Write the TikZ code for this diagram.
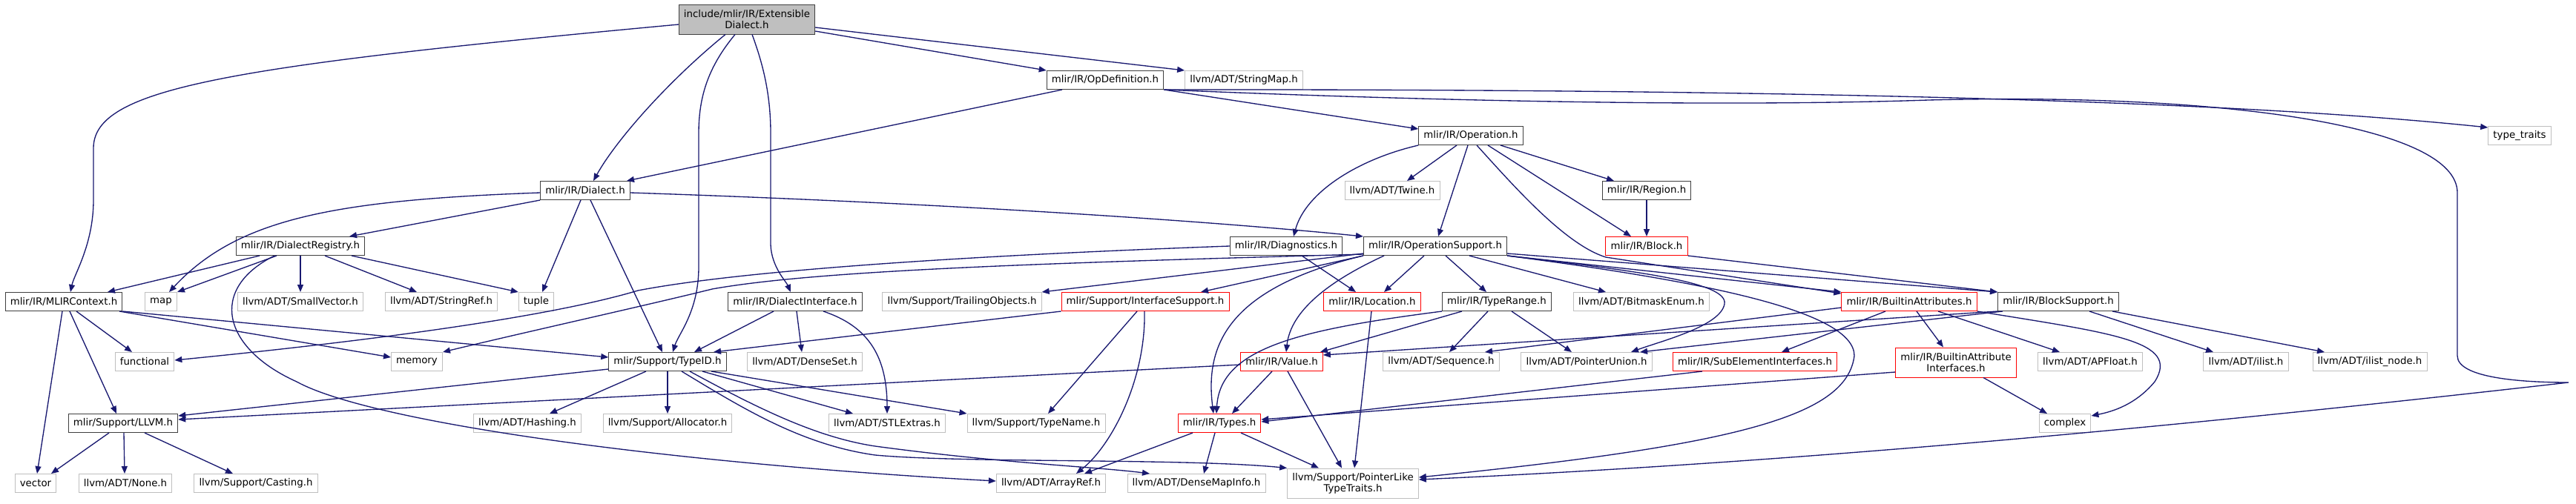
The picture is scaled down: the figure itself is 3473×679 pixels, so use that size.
\documentclass[tikz,border=0pt]{standalone}
\usepackage{fontspec}
\setmainfont{DejaVu Sans}
\usetikzlibrary{arrows.meta}
\definecolor{edgeblue}{RGB}{25,25,112}
\definecolor{rootgray}{RGB}{191,191,191}
\definecolor{boxdark}{RGB}{64,64,64}
\definecolor{sysgray}{RGB}{191,191,191}
\definecolor{truncred}{RGB}{255,0,0}
\begin{document}
\begin{tikzpicture}[x=0.75pt,y=-0.75pt,font=\fontsize{10}{11.5}\selectfont]
\tikzset{
  box/.style={draw,line width=0.75pt,align=center,minimum height=18.75pt,inner xsep=5pt,inner ysep=2pt,fill=white},
  root/.style={box,fill=rootgray,draw=boxdark,minimum height=30pt},
  hdr/.style={box,draw=boxdark},
  trunc/.style={box,draw=truncred},
  sys/.style={box,draw=sysgray},
  arr/.style={-{Triangle[length=7.5pt,width=6pt]},line width=1pt,draw=edgeblue}
}
\useasboundingbox (0,0) rectangle (3473,679);
\node(ext)[root] at (1007,26){include/mlir/IR/Extensible\\Dialect.h};
\node(opdef)[hdr] at (1490,108){mlir/IR/OpDefinition.h};
\node(strmap)[sys] at (1677,108){llvm/ADT/StringMap.h};
\node(oper)[hdr] at (1983,183){mlir/IR/Operation.h};
\node(typetr)[sys] at (3397,183){type\_traits};
\node(dialect)[hdr] at (789,257){mlir/IR/Dialect.h};
\node(twine)[sys] at (1877,257){llvm/ADT/Twine.h};
\node(region)[hdr] at (2220,257){mlir/IR/Region.h};
\node(dreg)[hdr] at (405,332){mlir/IR/DialectRegistry.h};
\node(diag)[hdr] at (1734,332){mlir/IR/Diagnostics.h};
\node(opsup)[hdr] at (1935,332){mlir/IR/OperationSupport.h};
\node(block)[trunc] at (2220,332){mlir/IR/Block.h};
\node(mlirctx)[hdr] at (86,407){mlir/IR/MLIRContext.h};
\node(map)[sys] at (217,407){map};
\node(smallvec)[sys] at (405,407){llvm/ADT/SmallVector.h};
\node(strref)[sys] at (595,407){llvm/ADT/StringRef.h};
\node(tuple)[sys] at (723,407){tuple};
\node(dialiface)[hdr] at (1072,407){mlir/IR/DialectInterface.h};
\node(trailobj)[sys] at (1297,407){llvm/Support/TrailingObjects.h};
\node(ifacesup)[trunc] at (1544,407){mlir/Support/InterfaceSupport.h};
\node(location)[trunc] at (1850,407){mlir/IR/Location.h};
\node(typerange)[hdr] at (2018,407){mlir/IR/TypeRange.h};
\node(bitmask)[sys] at (2213,407){llvm/ADT/BitmaskEnum.h};
\node(battr)[trunc] at (2574,407){mlir/IR/BuiltinAttributes.h};
\node(blocksup)[hdr] at (2775,407){mlir/IR/BlockSupport.h};
\node(functional)[sys] at (195,488){functional};
\node(memory)[sys] at (562,488){memory};
\node(typeid)[hdr] at (900,488){mlir/Support/TypeID.h};
\node(denseset)[sys] at (1085,488){llvm/ADT/DenseSet.h};
\node(value)[trunc] at (1728,488){mlir/IR/Value.h};
\node(sequence)[sys] at (1943,488){llvm/ADT/Sequence.h};
\node(ptrunion)[sys] at (2139,488){llvm/ADT/PointerUnion.h};
\node(subelem)[trunc] at (2366,488){mlir/IR/SubElementInterfaces.h};
\node(baiface)[trunc,minimum height=30pt] at (2637,489){mlir/IR/BuiltinAttribute\\Interfaces.h};
\node(apfloat)[sys] at (2818,488){llvm/ADT/APFloat.h};
\node(ilist)[sys] at (3028,488){llvm/ADT/ilist.h};
\node(ilistnode)[sys] at (3195,488){llvm/ADT/ilist\_node.h};
\node(llvmh)[hdr] at (166,571){mlir/Support/LLVM.h};
\node(hashing)[sys] at (711,571){llvm/ADT/Hashing.h};
\node(allocator)[sys] at (900,571){llvm/Support/Allocator.h};
\node(stlextras)[sys] at (1196,571){llvm/ADT/STLExtras.h};
\node(typename)[sys] at (1397,571){llvm/Support/TypeName.h};
\node(types)[trunc] at (1644,571){mlir/IR/Types.h};
\node(complex)[sys] at (2784,571){complex};
\node(vector)[sys] at (48,652){vector};
\node(none)[sys] at (169,652){llvm/ADT/None.h};
\node(casting)[sys] at (345,652){llvm/Support/Casting.h};
\node(arrayref)[sys] at (1417,652){llvm/ADT/ArrayRef.h};
\node(densemapinfo)[sys] at (1613,652){llvm/ADT/DenseMapInfo.h};
\node(ptrlike)[sys,minimum height=30pt] at (1824,652){llvm/Support/PointerLike\\TypeTraits.h};

\draw[arr](ext.west |- 0,33) .. controls (300,90) and (126,120) .. (126,200) -- (126,270) .. controls (126,330) and (100,370) .. (mlirctx.north -| 95,0);
\draw[arr](ext.south -| 978,0) .. controls (900,110) and (830,190) .. (dialect.north -| 800,0);
\draw[arr](ext.south -| 991,0) .. controls (955,90) and (942,130) .. (942,180) -- (942,360) .. controls (942,420) and (915,450) .. (typeid.north -| 907,0);
\draw[arr](ext.south -| 1014,0) .. controls (1030,90) and (1039,130) .. (1039,180) -- (1039,330) .. controls (1040,360) and (1060,380) .. (dialiface.north -| 1066,0);
\draw[arr](ext.east |- 0,42) -- (opdef.north west);
\draw[arr](ext.east |- 0,37) -- (strmap.north west);

\draw[arr](opdef.south -| 1432,0) -- (dialect.north -| 845,0);
\draw[arr](opdef.south east) -- (oper.west |- 0,174);
\draw[arr](opdef.south east) .. controls (2400,120) and (3000,135) .. (typetr.west |- 0,172);
\draw[arr](opdef.south east) .. controls (1900,135) and (2300,145) .. (2600,135) .. controls (3000,125) and (3313,170) .. (3313,260) -- (3313,480) .. controls (3313,510) and (3400,516) .. (3463,516) .. controls (2900,580) and (2400,625) .. (ptrlike.east |- 0,647);

\draw[arr](dialect.south west) -- (dreg.north -| 471,0);
\draw[arr](dialect.west |- 0,260) .. controls (450,270) and (320,295) .. (map.north -| 228,0);
\draw[arr](dialect.south -| 783,0) -- (tuple.north -| 731,0);
\draw[arr](dialect.south -| 796,0) -- (typeid.north -| 893,0);
\draw[arr](dialect.east |- 0,260) .. controls (1300,275) and (1650,300) .. (opsup.north west);

\draw[arr](dreg.south -| 350,0) -- (mlirctx.north -| 145,0);
\draw[arr](dreg.south -| 373,0) -- (map.north east);
\draw[arr](dreg.south) -- (smallvec.north);
\draw[arr](dreg.south -| 438,0) -- (strref.north -| 562,0);
\draw[arr](dreg.south -| 474,0) -- (tuple.north west);
\draw[arr](dreg.south -| 370,0) .. controls (280,390) and (300,470) .. (400,515) .. controls (500,570) and (900,625) .. (arrayref.west |- 0,649);

\draw[arr](mlirctx.south -| 103,0) -- (functional.north -| 178,0);
\draw[arr](mlirctx.south -| 161,0) -- (memory.west |- 0,482);
\draw[arr](mlirctx.south east) -- (typeid.west |- 0,482);
\draw[arr](mlirctx.south -| 94,0) -- (llvmh.north -| 157,0);
\draw[arr](mlirctx.south -| 84,0) -- (vector.north -| 50,0);

\draw[arr](llvmh.south -| 147,0) -- (vector.north -| 69,0);
\draw[arr](llvmh.south -| 167,0) -- (none.north -| 168,0);
\draw[arr](llvmh.south -| 195,0) -- (casting.north -| 314,0);

\draw[arr](dialiface.south -| 1043,0) -- (typeid.north -| 936,0);
\draw[arr](dialiface.south -| 1074,0) -- (denseset.north -| 1081,0);
\draw[arr](dialiface.south -| 1110,0) .. controls (1170,440) and (1196,480) .. (stlextras.north);

\draw[arr](typeid.west |- 0,498) -- (llvmh.east |- 0,561);
\draw[arr](typeid.south -| 871,0) -- (hashing.north -| 741,0);
\draw[arr](typeid.south) -- (allocator.north);
\draw[arr](typeid.south -| 947,0) -- (stlextras.north -| 1150,0);
\draw[arr](typeid.south -| 959,0) -- (typename.north west);
\draw[arr](typeid.south -| 930,0) .. controls (1020,550) and (1100,590) .. (1180,602) .. controls (1350,625) and (1480,630) .. (densemapinfo.north -| 1550,0);
\draw[arr](typeid.south -| 919,0) .. controls (1000,550) and (1080,600) .. (1180,614) .. controls (1300,625) and (1600,618) .. (ptrlike.north west);

\draw[arr](ifacesup.south west) -- (typeid.north -| 962,0);
\draw[arr](ifacesup.south -| 1533,0) -- (typename.north -| 1413,0);
\draw[arr](ifacesup.south -| 1543,0) .. controls (1545,510) and (1500,600) .. (arrayref.north -| 1451,0);

\draw[arr](types.south -| 1608,0) -- (arrayref.north -| 1462,0);
\draw[arr](types.south -| 1638,0) -- (densemapinfo.north -| 1623,0);
\draw[arr](types.south -| 1673,0) -- (ptrlike.north -| 1778,0);

\draw[arr](value.south -| 1715,0) -- (types.north -| 1661,0);
\draw[arr](value.south -| 1736,0) -- (ptrlike.north -| 1809,0);
\draw[arr](value.west |- 0,492) -- (llvmh.east |- 0,566);

\draw[arr](location.south -| 1849,0) -- (ptrlike.north -| 1826,0);

\draw[arr](typerange.south -| 1971,0) -- (value.north -| 1780,0);
\draw[arr](typerange.south west) .. controls (1750,445) and (1645,470) .. (types.north -| 1640,0);
\draw[arr](typerange.south -| 2006,0) -- (sequence.north -| 1954,0);
\draw[arr](typerange.south -| 2038,0) -- (ptrunion.north -| 2119,0);

\draw[arr](diag.west) .. controls (1300,345) and (1000,365) .. (860,392) .. controls (800,410) and (650,445) .. (functional.east |- 0,486);
\draw[arr](diag.south -| 1755,0) -- (location.north -| 1828,0);

\draw[arr](opsup.south -| 1920,0) -- (location.north -| 1866,0);
\draw[arr](opsup.south -| 1949,0) -- (typerange.north -| 2004,0);
\draw[arr](opsup.south -| 1981,0) -- (bitmask.north -| 2165,0);
\draw[arr](opsup.south -| 1866,0) .. controls (1790,380) and (1740,420) .. (value.north -| 1734,0);
\draw[arr](opsup.south west) .. controls (1650,390) and (1625,470) .. (types.north -| 1636,0);
\draw[arr](opsup.south west) -- (ifacesup.north -| 1619,0);
\draw[arr](opsup.west |- 0,342) -- (trailobj.north east);
\draw[arr](opsup.west |- 0,343) .. controls (1400,355) and (1100,365) .. (960,390) .. controls (880,410) and (700,450) .. (memory.north east);
\draw[arr](opsup.south east) -- (battr.west |- 0,394);
\draw[arr](opsup.east |- 0,342) -- (blocksup.north west);
\draw[arr](opsup.south east) .. controls (2200,365) and (2330,380) .. (2325,410) .. controls (2320,440) and (2240,460) .. (ptrunion.north -| 2199,0);
\draw[arr](opsup.south east) .. controls (2300,380) and (2500,420) .. (2500,480) .. controls (2490,560) and (2350,600) .. (ptrlike.east |- 0,644);

\draw[arr](oper.south west) .. controls (1830,215) and (1760,260) .. (diag.north -| 1744,0);
\draw[arr](oper.south -| 1964,0) -- (twine.north -| 1897,0);
\draw[arr](oper.south -| 1979,0) -- (opsup.north -| 1939,0);
\draw[arr](oper.south -| 1991,0) .. controls (2040,250) and (2110,330) .. (2165,347) -- (battr.west |- 0,396);
\draw[arr](oper.south -| 2006,0) -- (block.north -| 2199,0);
\draw[arr](oper.south -| 2023,0) -- (region.north -| 2176,0);

\draw[arr](region) -- (block);
\draw[arr](block.south east) -- (blocksup.north west);

\draw[arr](blocksup.south west) -- (value.east |- 0,479);
\draw[arr](blocksup.south -| 2700,0) -- (ptrunion.north -| 2211,0);
\draw[arr](blocksup.south -| 2817,0) -- (ilist.north -| 2984,0);
\draw[arr](blocksup.south -| 2848,0) -- (ilistnode.north -| 3134,0);

\draw[arr](battr.south -| 2542,0) -- (subelem.north -| 2402,0);
\draw[arr](battr.south -| 2584,0) -- (baiface.north -| 2620,0);
\draw[arr](battr.south -| 2613,0) -- (apfloat.north -| 2777,0);
\draw[arr](battr.south east) .. controls (2850,450) and (2940,460) .. (2905,515) .. controls (2880,545) and (2850,555) .. (complex.east |- 0,561);
\draw[arr](battr.west |- 0,415) -- (sequence.north -| 2002,0);

\draw[arr](baiface.south -| 2674,0) -- (complex.north -| 2760,0);
\draw[arr](baiface.west |- 0,502) -- (types.east |- 0,566);
\draw[arr](subelem.south -| 2295,0) -- (types.east |- 0,569);
\end{tikzpicture}
\end{document}
